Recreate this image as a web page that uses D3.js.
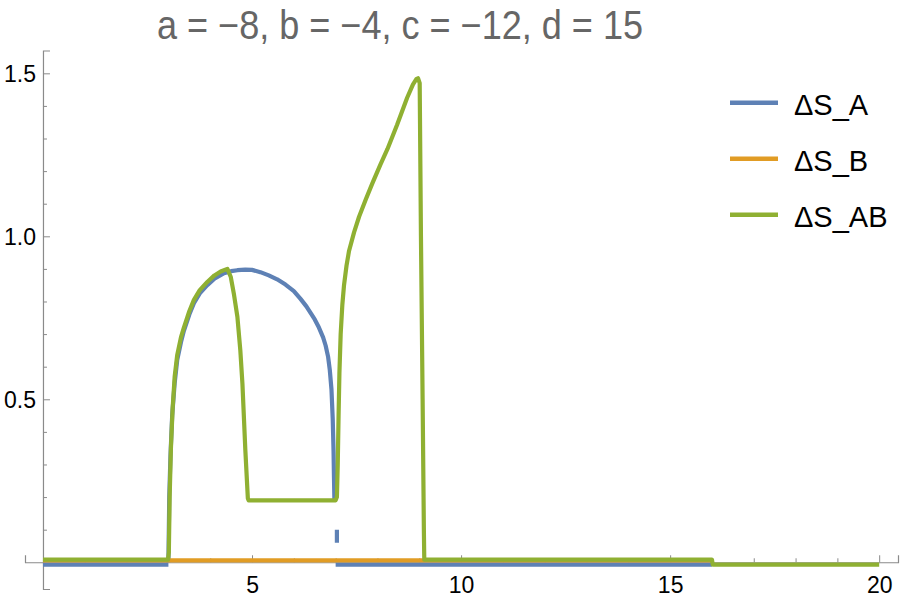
<!DOCTYPE html>
<html>
<head>
<meta charset="utf-8">
<script src="https://cdn.jsdelivr.net/npm/d3@7"></script>
<style>
  body { margin: 0; background: #fff; }
  svg { display: block; font-family: "Liberation Sans", Arial, sans-serif; }
</style>
</head>
<body>
<div id="vis"><svg></svg></div>
<script>
// series names and colours
var seriesNames = ["ΔS_A", "ΔS_B", "ΔS_AB"];
var seriesColors = ["#5E81B5", "#E19C24", "#8FB032"];
var titleText = "a = \u22128, b = \u22124, c = \u221212, d = 15";

// x-axis ticks
var xMajor = [5, 10, 15, 20];
var xMinor = [1, 2, 3, 4, 6, 7, 8, 9, 11, 12, 13, 14, 16, 17, 18, 19];
// y-axis ticks
var yMajor = [0.5, 1.0, 1.5];
var yMinor = [0.1, 0.2, 0.3, 0.4, 0.6, 0.7, 0.8, 0.9, 1.1, 1.2, 1.3, 1.4];

// [x, y] points, null = gap
var dsA = [
  [0, -0.007], [3.0, -0.007], null,
  [3.0, 0], [3.02, 0.2], [3.05, 0.33], [3.09, 0.45], [3.15, 0.55], [3.21, 0.62],
  [3.3, 0.675], [3.37, 0.71], [3.5, 0.76], [3.61, 0.795], [3.75, 0.825],
  [3.93, 0.85], [4.1, 0.87], [4.33, 0.887], [4.5, 0.893], [4.65, 0.896],
  [4.84, 0.898], [5.0, 0.897], [5.2, 0.89], [5.4, 0.88], [5.6, 0.868],
  [5.8, 0.852], [6.0, 0.832], [6.16, 0.808], [6.3, 0.785], [6.4, 0.765],
  [6.5, 0.745], [6.6, 0.72], [6.7, 0.69], [6.76, 0.665], [6.82, 0.63],
  [6.86, 0.59], [6.9, 0.53], [6.93, 0.44], [6.95, 0.34], [6.96, 0.26],
  [6.97, 0.19], null,
  [7.03, 0.06], [7.03, 0.1], null,
  [7.0, -0.007], [16.0, -0.007]
];
var dsB = [
  [0, 0.006], [16.0, 0.006]
];
var dsAB = [
  [0, 0.008], [2.99, 0.008], [3.01, 0.03], [3.03, 0.2], [3.06, 0.35],
  [3.1, 0.47], [3.15, 0.57], [3.21, 0.635], [3.3, 0.69], [3.37, 0.72],
  [3.5, 0.77], [3.61, 0.805], [3.75, 0.835], [3.93, 0.86], [4.1, 0.88],
  [4.25, 0.892], [4.41, 0.9], [4.49, 0.876], [4.57, 0.82], [4.65, 0.753],
  [4.72, 0.65], [4.77, 0.549], [4.84, 0.344], [4.9, 0.196], [4.92, 0.19],
  [7.0, 0.19], [7.03, 0.2], [7.05, 0.3], [7.07, 0.45], [7.09, 0.58],
  [7.12, 0.7], [7.16, 0.79], [7.2, 0.85], [7.26, 0.91], [7.32, 0.955],
  [7.44, 1.012], [7.56, 1.06], [7.72, 1.113], [7.88, 1.163], [8.07, 1.22],
  [8.24, 1.268], [8.47, 1.342], [8.71, 1.425], [8.85, 1.466], [8.93, 1.482],
  [8.97, 1.485], [9.01, 1.47], [9.04, 1.0], [9.08, 0.5],
  [9.11, 0.1], [9.12, 0.008], [16.0, 0.008], [16.02, -0.007], [20.0, -0.007]
];
var seriesData = [dsA, dsB, dsAB];

var W = 900, H = 601;

var svg = d3.select("#vis").select("svg")
    .attr("width", W)
    .attr("height", H);

var x = d3.scaleLinear().domain([-0.43, 20.45]).range([25, 898]);
var y = d3.scaleLinear().domain([-0.082, 1.57]).range([589, 50.5]);

var axisColor = "#8a8a8a";

// title
svg.append("text")
    .attr("x", 400)
    .attr("y", 39)
    .attr("text-anchor", "middle")
    .attr("textLength", 486)
    .attr("lengthAdjust", "spacingAndGlyphs")
    .style("font-size", "40px")
    .style("fill", "#666")
    .text(titleText);

// x axis (major + minor ticks point up)
var gx = svg.append("g")
    .attr("transform", "translate(0," + y(0) + ")")
    .call(d3.axisBottom(x).tickValues(xMajor).tickSize(-7).tickPadding(14)
      .tickFormat(d3.format("d")));
gx.append("g")
    .call(d3.axisBottom(x).tickValues(xMinor).tickSize(-4).tickFormat(""))
    .select(".domain").remove();

// y axis
var gy = svg.append("g")
    .attr("transform", "translate(" + x(0) + ",0)")
    .call(d3.axisLeft(y).tickValues(yMajor).tickSize(-7).tickPadding(7)
      .tickFormat(d3.format(".1f")));
gy.append("g")
    .call(d3.axisLeft(y).tickValues(yMinor).tickSize(-4).tickFormat(""))
    .select(".domain").remove();

svg.selectAll(".domain").attr("stroke", axisColor).attr("stroke-width", 1.2);
svg.selectAll(".tick line").attr("stroke", axisColor).attr("stroke-width", 1);
svg.selectAll(".tick text")
    .style("font-size", "23px")
    .style("font-family", "Liberation Sans, Arial, sans-serif")
    .attr("fill", "#000");
gy.selectAll(".tick text").attr("dy", "0.37em");

// lines
var line = d3.line()
    .defined(function(d) { return d != null; })
    .x(function(d) { return x(d[0]); })
    .y(function(d) { return y(d[1]); });

svg.selectAll("myLines")
  .data(seriesData)
  .enter()
  .append("path")
    .attr("d", function(d) { return line(d); })
    .attr("stroke", function(d, i) { return seriesColors[i]; })
    .style("stroke-width", 4.2)
    .style("stroke-linejoin", "round")
    .style("fill", "none");

// legend
var legend = svg.selectAll("myLegend")
  .data(seriesNames)
  .enter()
  .append("g")
    .attr("transform", function(d, i) { return "translate(730," + (102.7 + i * 56) + ")"; });
legend.append("line")
    .attr("x1", 0).attr("x2", 48)
    .attr("stroke", function(d, i) { return seriesColors[i]; })
    .attr("stroke-width", 4.5);
legend.append("text")
    .attr("x", 64)
    .attr("y", 12)
    .style("font-size", "29px")
    .style("fill", "#000")
    .text(function(d) { return d; });
</script>
</body>
</html>
